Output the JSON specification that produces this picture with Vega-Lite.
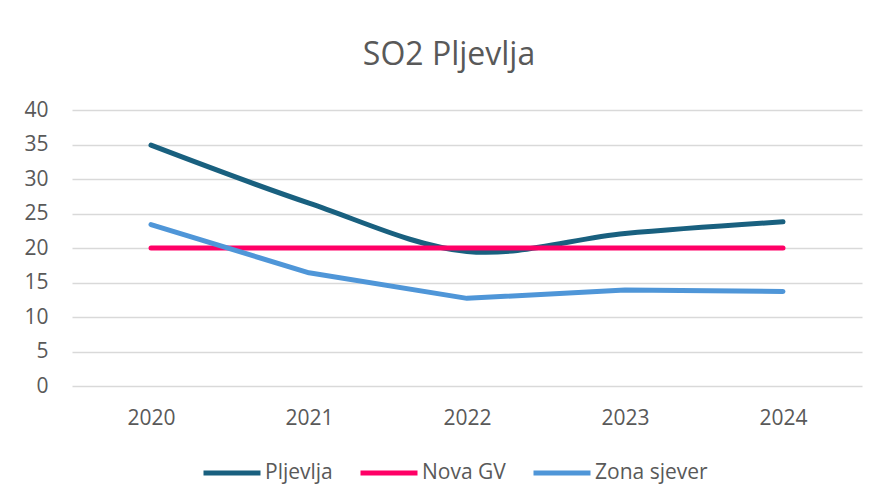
{
  "$schema": "https://vega.github.io/schema/vega-lite/v6.json",
  "width": 790,
  "height": 276,
  "autosize": "none",
  "padding": {"left": 72, "top": 110, "right": 16, "bottom": 115},
  "background": "white",
  "config": {
    "font": "Open Sans",
    "view": {"stroke": null}
  },
  "title": {
    "text": "SO2 Pljevlja",
    "fontSize": 32,
    "fontWeight": "normal",
    "color": "#595959",
    "anchor": "middle",
    "dx": -18,
    "offset": 2,
    "baseline": "alphabetic"
  },
  "data": {
    "values": [
      {"year": "2020", "series": "Pljevlja", "value": 34.9},
      {"year": "2021", "series": "Pljevlja", "value": 26.5},
      {"year": "2022", "series": "Pljevlja", "value": 19.5},
      {"year": "2023", "series": "Pljevlja", "value": 22.1},
      {"year": "2024", "series": "Pljevlja", "value": 23.8},
      {"year": "2020", "series": "Nova GV", "value": 20},
      {"year": "2021", "series": "Nova GV", "value": 20},
      {"year": "2022", "series": "Nova GV", "value": 20},
      {"year": "2023", "series": "Nova GV", "value": 20},
      {"year": "2024", "series": "Nova GV", "value": 20},
      {"year": "2020", "series": "Zona sjever", "value": 23.4},
      {"year": "2021", "series": "Zona sjever", "value": 16.4},
      {"year": "2022", "series": "Zona sjever", "value": 12.7},
      {"year": "2023", "series": "Zona sjever", "value": 13.9},
      {"year": "2024", "series": "Zona sjever", "value": 13.7}
    ]
  },
  "encoding": {
    "x": {
      "field": "year",
      "type": "ordinal",
      "scale": {"type": "point", "padding": 0.5},
      "axis": {
        "title": null,
        "labelAngle": 0,
        "ticks": false,
        "domain": false,
        "grid": false,
        "labelFontSize": 21,
        "labelColor": "#595959",
        "labelPadding": 21
      }
    },
    "y": {
      "field": "value",
      "type": "quantitative",
      "scale": {"domain": [0, 40], "nice": false},
      "axis": {
        "title": null,
        "values": [0, 5, 10, 15, 20, 25, 30, 35, 40],
        "ticks": false,
        "domain": false,
        "gridColor": "#d9d9d9",
        "gridWidth": 1.3,
        "labelFontSize": 21,
        "labelColor": "#595959",
        "labelPadding": 24
      }
    },
    "color": {
      "field": "series",
      "type": "nominal",
      "scale": {
        "domain": ["Pljevlja", "Nova GV", "Zona sjever"],
        "range": ["#19607f", "#ff0066", "#4f96d8"]
      },
      "legend": {
        "title": null,
        "orient": "none",
        "legendX": 129,
        "legendY": 332,
        "direction": "horizontal",
        "symbolType": "stroke",
        "symbolSize": 3249,
        "symbolStrokeWidth": 5,
        "labelFontSize": 21,
        "labelColor": "#595959",
        "columnPadding": 17,
        "labelOffset": 2,
        "padding": 0
      }
    }
  },
  "layer": [
    {
      "transform": [{"filter": "datum.series === 'Pljevlja'"}],
      "mark": {"type": "line", "strokeWidth": 5, "strokeCap": "round", "interpolate": "cardinal"}
    },
    {
      "transform": [{"filter": "datum.series !== 'Pljevlja'"}],
      "mark": {"type": "line", "strokeWidth": 5, "strokeCap": "round", "strokeJoin": "round"}
    }
  ]
}
